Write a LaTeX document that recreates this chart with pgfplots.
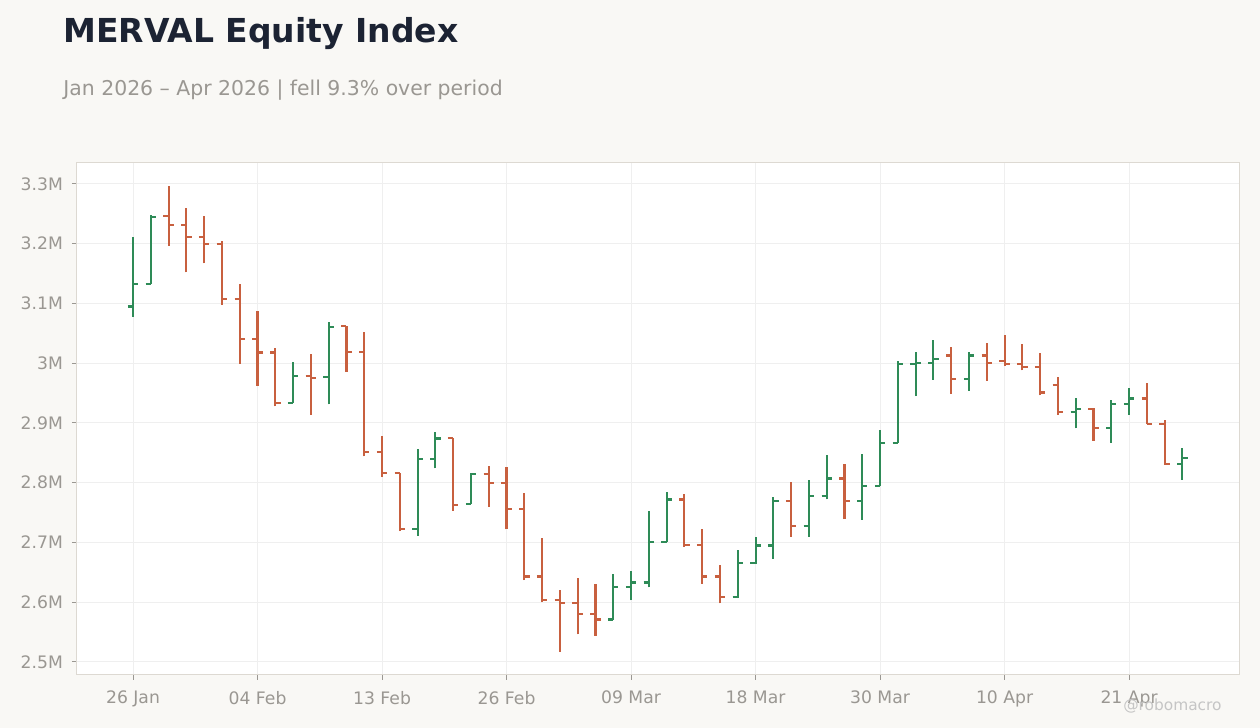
\documentclass[border=0pt]{standalone}
\usepackage{pgfplots}
\pgfplotsset{compat=1.18}
\usepackage{pgfplotstable}
\usepackage{fontspec}
\setmainfont{DejaVu Sans}
\definecolor{bg}{HTML}{F9F8F5}
\definecolor{upc}{HTML}{2E8B57}
\definecolor{dnc}{HTML}{C8603F}
\definecolor{titlec}{HTML}{1C2333}
\definecolor{subc}{HTML}{9A9792}
\definecolor{tickc}{HTML}{9A9792}
\definecolor{gridc}{HTML}{EFEFEF}
\definecolor{framec}{HTML}{DDD9D2}
\definecolor{wmc}{HTML}{C5C5C5}
\pgfdeclareplotmark{ohlcopen}{\pgfpathmoveto{\pgfqpoint{-2.6pt}{0pt}}\pgfpathlineto{\pgfqpoint{0pt}{0pt}}\pgfusepathqstroke}
\pgfdeclareplotmark{ohlcclose}{\pgfpathmoveto{\pgfqpoint{0pt}{0pt}}\pgfpathlineto{\pgfqpoint{2.6pt}{0pt}}\pgfusepathqstroke}

\pgfplotstableread{
x O H L C
0 3.095 3.211 3.078 3.133
1 3.133 3.248 3.133 3.245
9 2.934 3.002 2.934 2.978
11 2.977 3.069 2.931 3.061
16 2.723 2.857 2.711 2.840
17 2.840 2.885 2.824 2.874
19 2.764 2.816 2.764 2.814
27 2.571 2.647 2.571 2.626
28 2.626 2.652 2.603 2.633
29 2.633 2.753 2.625 2.701
30 2.701 2.785 2.701 2.772
34 2.608 2.687 2.607 2.665
35 2.665 2.709 2.664 2.695
36 2.695 2.776 2.673 2.770
38 2.727 2.805 2.710 2.778
39 2.778 2.846 2.772 2.807
41 2.770 2.848 2.738 2.795
42 2.795 2.888 2.795 2.867
43 2.867 3.004 2.867 2.999
44 2.999 3.019 2.945 3.001
45 3.001 3.039 2.972 3.007
47 2.974 3.019 2.954 3.013
53 2.919 2.942 2.891 2.924
55 2.891 2.939 2.867 2.932
56 2.932 2.959 2.914 2.941
59 2.831 2.858 2.805 2.842
}\upbars

\pgfplotstableread{
x O H L C
2 3.247 3.297 3.197 3.231
3 3.232 3.260 3.152 3.212
4 3.212 3.246 3.167 3.200
5 3.200 3.204 3.098 3.108
6 3.108 3.133 2.999 3.040
7 3.040 3.087 2.962 3.018
8 3.018 3.025 2.928 2.934
10 2.978 3.016 2.914 2.976
12 3.062 3.062 2.986 3.019
13 3.019 3.052 2.844 2.852
14 2.852 2.878 2.810 2.817
15 2.817 2.817 2.719 2.723
18 2.875 2.875 2.753 2.763
20 2.815 2.828 2.760 2.800
21 2.800 2.826 2.722 2.756
22 2.756 2.783 2.637 2.643
23 2.643 2.708 2.600 2.604
24 2.604 2.621 2.517 2.598
25 2.598 2.641 2.546 2.581
26 2.581 2.631 2.544 2.571
31 2.772 2.781 2.693 2.696
32 2.696 2.723 2.631 2.643
33 2.643 2.662 2.598 2.608
37 2.770 2.801 2.710 2.727
40 2.807 2.831 2.739 2.770
46 3.013 3.027 2.949 2.974
48 3.013 3.034 2.971 3.000
49 3.003 3.047 2.996 2.999
50 2.999 3.032 2.988 2.993
51 2.993 3.017 2.946 2.951
52 2.964 2.977 2.914 2.919
54 2.924 2.925 2.870 2.891
57 2.941 2.967 2.898 2.898
58 2.898 2.905 2.830 2.831
}\dnbars

\begin{document}
\begin{tikzpicture}
\useasboundingbox (0,0) rectangle (630pt,364pt);
\fill[bg] (0,0) rectangle (630pt,364pt);
\node[anchor=base west, inner sep=0pt, text=titlec, font=\fontsize{16.5}{20}\selectfont\bfseries] at (31.5pt,342.5pt) {MERVAL Equity Index};
\node[anchor=base west, inner sep=0pt, text=subc, font=\fontsize{10.2}{12}\selectfont] at (31.5pt,316pt) {Jan 2026 – Apr 2026 | fell 9.3\% over period};
\begin{axis}[
  at={(38.5pt,26.5pt)}, anchor=south west,
  scale only axis, width=581pt, height=256.5pt,
  xmin=-3.149, xmax=62.18, ymin=2.4782, ymax=3.3368,
  axis background/.style={fill=white},
  axis line style={framec, line width=0.5pt},
  xtick={0,7,14,21,28,35,42,49,56},
  xticklabels={26 Jan,04 Feb,13 Feb,26 Feb,09 Mar,18 Mar,30 Mar,10 Apr,21 Apr},
  ytick={2.5,2.6,2.7,2.8,2.9,3.0,3.1,3.2,3.3},
  yticklabels={2.5M,2.6M,2.7M,2.8M,2.9M,3M,3.1M,3.2M,3.3M},
  xtick pos=bottom, ytick pos=left,
  grid=major, major grid style={gridc, line width=0.5pt},
  tick align=outside, major tick length=2.5pt,
  tick style={tickc, line width=0.5pt},
  ticklabel style={font=\fontsize{8.6}{10}\selectfont, text=tickc},
  xticklabel style={yshift=-2pt},
  yticklabel style={xshift=-1pt},
]
\addplot[draw=none, mark=none, forget plot, error bars/.cd, y dir=plus, y explicit, error mark=none, error bar style={line width=1.05pt, draw=upc}] table[x=x, y=L, y error expr=\thisrow{H}-\thisrow{L}] {\upbars};
\addplot[only marks, mark=ohlcopen, draw=upc, mark options={line width=1.05pt, draw=upc}] table[x=x, y=O] {\upbars};
\addplot[only marks, mark=ohlcclose, draw=upc, mark options={line width=1.05pt, draw=upc}] table[x=x, y=C] {\upbars};
\addplot[draw=none, mark=none, forget plot, error bars/.cd, y dir=plus, y explicit, error mark=none, error bar style={line width=1.05pt, draw=dnc}] table[x=x, y=L, y error expr=\thisrow{H}-\thisrow{L}] {\dnbars};
\addplot[only marks, mark=ohlcopen, draw=dnc, mark options={line width=1.05pt, draw=dnc}] table[x=x, y=O] {\dnbars};
\addplot[only marks, mark=ohlcclose, draw=dnc, mark options={line width=1.05pt, draw=dnc}] table[x=x, y=C] {\dnbars};
\end{axis}
\node[anchor=base east, inner sep=0pt, text=wmc, font=\fontsize{7.7}{9}\selectfont] at (611pt,8.5pt) {@robomacro};
\end{tikzpicture}
\end{document}
